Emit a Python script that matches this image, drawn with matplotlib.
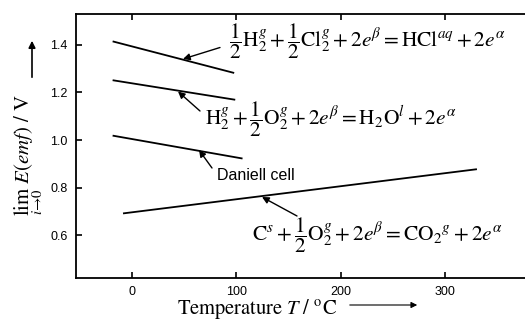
import matplotlib
matplotlib.use("Agg")
from matplotlib import pyplot
import numpy

pyplot.rcParams['mathtext.fontset'] = 'stix'
pyplot.rcParams['font.family'] = ['Liberation Sans', 'DejaVu Sans']

# line end points: (T start, T end), (E start, E end)
hcl_T = [-18, 97]
hcl_E = [1.414, 1.283]
h2o_T = [-18, 98]
h2o_E = [1.251, 1.170]
daniell_T = [-18, 105]
daniell_E = [1.018, 0.923]
co2_T = [-8, 330]
co2_E = [0.692, 0.877]

x_ticks = [0, 100, 200, 300]
y_ticks = [0.6, 0.8, 1.0, 1.2, 1.4]

fig = pyplot.figure(figsize=(5.25, 3.2), dpi=100)
ax = fig.add_axes([76 / 525, 42 / 320, 449 / 525, 264 / 320])

for T, E in [(hcl_T, hcl_E), (h2o_T, h2o_E), (daniell_T, daniell_E), (co2_T, co2_E)]:
    ax.plot(T, E, color='black', lw=1.3)

ax.set_xlim(-54, 377)
ax.set_ylim(0.42, 1.53)
ax.set_xticks(x_ticks)
ax.set_yticks(y_ticks)
ax.set_yticklabels([f'{v:.1f}' for v in y_ticks])
ax.tick_params(direction='in', top=True, length=4, width=1.2, labelsize=9, pad=6)
for s in ['left', 'bottom', 'top']:
    ax.spines[s].set_linewidth(1.3)
ax.spines['right'].set_visible(False)

arrow = dict(arrowstyle='-|>', color='black', lw=1.0, mutation_scale=10, shrinkA=0, shrinkB=0)


def px(x, y):
    # figure pixel position (from top-left) to data coords
    return ax.transData.inverted().transform((x, 320 - y))


eqs = [
    (r'$\dfrac{1}{2}\mathrm{H}_2^g+\dfrac{1}{2}\mathrm{Cl}_2^g+2e^\beta=\mathrm{HCl}^{aq}+2e^\alpha$',
     (183, 59), (220, 47.5), (229, 41)),
    (r'$\mathrm{H}_2^g+\dfrac{1}{2}\mathrm{O}_2^g+2e^\beta=\mathrm{H_2O}^l+2e^\alpha$',
     (178, 91.5), (200, 111), (205, 119)),
    (r'$\mathrm{C}^s+\dfrac{1}{2}\mathrm{O}_2^g+2e^\beta=\mathrm{CO_2}^g+2e^\alpha$',
     (262, 197), (297, 216), (252, 235)),
]
for label, head, tail, pos in eqs:
    ax.annotate('', xy=px(*head), xytext=px(*tail), arrowprops=arrow)
    ax.text(*px(*pos), label, fontsize=15.4, va='center', ha='left')

ax.annotate('', xy=px(199, 150), xytext=px(212, 168), arrowprops=arrow)
ax.text(*px(217, 176), 'Daniell cell', fontsize=11.5, va='center', ha='left')

fig.text(29 / 525, 1 - 155 / 320, r'$\lim_{i\to 0}\ E(emf)\ /\ \mathrm{V}$',
         rotation=90, fontsize=15, ha='center', va='center')
fig.text(257 / 525, 1 - 314 / 320, r'$\mathrm{Temperature}\ T\ /\ ^\mathrm{o}\mathrm{C}$',
         fontsize=14.8, ha='center', va='baseline')
fig.patches.append(matplotlib.patches.FancyArrowPatch(
    (32 / 525, 1 - 80 / 320), (32 / 525, 1 - 38 / 320), transform=fig.transFigure,
    arrowstyle='-|>', mutation_scale=10, color='black', lw=1.2))
fig.patches.append(matplotlib.patches.FancyArrowPatch(
    (347 / 525, 1 - 305 / 320), (420 / 525, 1 - 305 / 320), transform=fig.transFigure,
    arrowstyle='-|>', mutation_scale=9, color='black', lw=0.8))

pyplot.savefig('out.png', dpi=100)
